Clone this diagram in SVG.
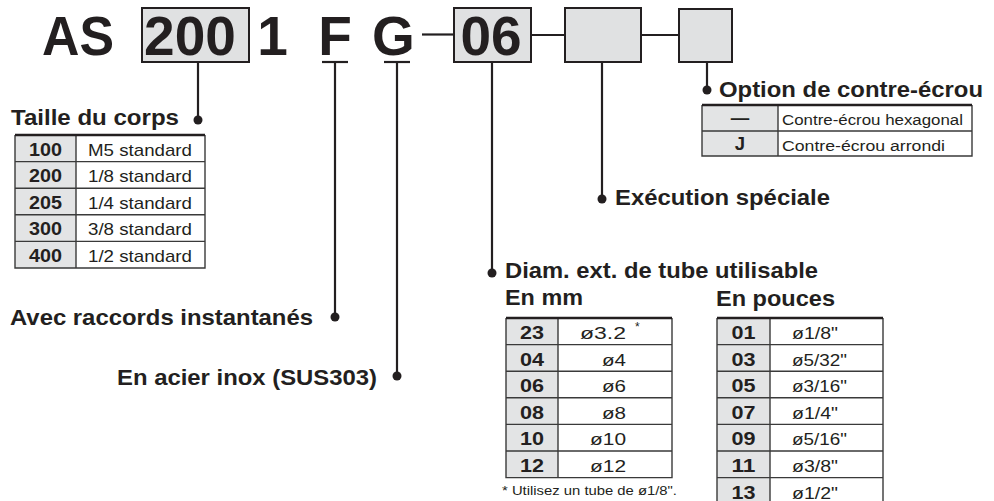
<svg xmlns="http://www.w3.org/2000/svg" width="994" height="501" viewBox="0 0 994 501">
<style>
.t{font-family:"Liberation Sans",Arial,sans-serif;fill:#231f20}
.big{font-size:55px;font-weight:bold}
.lab{font-size:21.5px;font-weight:bold}
.num{font-size:18.5px;font-weight:bold;text-anchor:middle}
.val{font-size:17px}
.code{fill:#e0e1e2;stroke:#231f20;stroke-width:2}
.ln{stroke:#231f20;stroke-width:2.2;fill:none}
.dot{fill:#231f20}
.gc{fill:#e3e4e5}
.wc{fill:#ffffff}
.grid{stroke:#3a3a3a;stroke-width:1.4;fill:none}
.top{stroke:#231f20;stroke-width:2.6}
</style>

<g id="code">
  <text class="t big" x="42" y="55" textLength="72" lengthAdjust="spacingAndGlyphs">AS</text>
  <rect class="code" x="142" y="8" width="107" height="54"/>
  <text class="t big" x="190" y="55" text-anchor="middle">200</text>
  <text class="t big" x="272.5" y="55" text-anchor="middle">1</text>
  <text class="t big" x="335" y="55" text-anchor="middle">F</text>
  <text class="t big" x="393.5" y="55" text-anchor="middle">G</text>
  <rect class="code" x="454" y="8" width="77" height="54"/>
  <text class="t big" x="491" y="55" text-anchor="middle">06</text>
  <rect class="code" x="565" y="8" width="76" height="54"/>
  <rect class="code" x="679" y="9" width="53" height="53"/>
</g>

<g id="connectors">
  <line class="ln" x1="322" y1="62" x2="348" y2="62"/>
  <line class="ln" x1="384" y1="62" x2="410" y2="62"/>
  <line class="ln" x1="422" y1="34.5" x2="454" y2="34.5" stroke-width="2.6"/>
  <line class="ln" x1="531" y1="35" x2="565" y2="35" stroke-width="2.6"/>
  <line class="ln" x1="641" y1="35" x2="679" y2="35" stroke-width="2.6"/>
  <line class="ln" x1="198" y1="62" x2="198" y2="120"/>
  <circle class="dot" cx="198" cy="120" r="4.5"/>
  <line class="ln" x1="335" y1="62" x2="335" y2="317"/>
  <circle class="dot" cx="335" cy="317" r="4.5"/>
  <line class="ln" x1="397" y1="62" x2="397" y2="376"/>
  <circle class="dot" cx="397" cy="376" r="4.5"/>
  <line class="ln" x1="492" y1="62" x2="492" y2="273"/>
  <circle class="dot" cx="492" cy="273" r="4.5"/>
  <line class="ln" x1="602" y1="62" x2="602" y2="199"/>
  <circle class="dot" cx="602" cy="199" r="4.5"/>
  <line class="ln" x1="707" y1="62" x2="707" y2="90"/>
  <circle class="dot" cx="707" cy="90" r="4.5"/>
</g>

<g id="taille">
  <text class="t lab" x="11" y="125" textLength="168" lengthAdjust="spacingAndGlyphs">Taille du corps</text>
  <rect class="gc" x="15" y="135" width="61" height="133"/>
  <rect class="wc" x="76" y="135" width="129" height="133"/>
  <path class="grid" d="M15 135V268H205V135M76 135V268M15 161.6H205M15 188.2H205M15 214.8H205M15 241.4H205"/>
  <line class="top" x1="15" y1="135" x2="205" y2="135"/>
  <text class="t num" x="45.5" y="155.5" textLength="33" lengthAdjust="spacingAndGlyphs">100</text>
  <text class="t num" x="45.5" y="182.1" textLength="33" lengthAdjust="spacingAndGlyphs">200</text>
  <text class="t num" x="45.5" y="208.7" textLength="33" lengthAdjust="spacingAndGlyphs">205</text>
  <text class="t num" x="45.5" y="235.3" textLength="33" lengthAdjust="spacingAndGlyphs">300</text>
  <text class="t num" x="45.5" y="261.9" textLength="33" lengthAdjust="spacingAndGlyphs">400</text>
  <g class="t val" text-anchor="middle">
    <text x="140" y="155.5" textLength="104" lengthAdjust="spacingAndGlyphs">M5 standard</text>
    <text x="140" y="182.1" textLength="104" lengthAdjust="spacingAndGlyphs">1/8 standard</text>
    <text x="140" y="208.7" textLength="104" lengthAdjust="spacingAndGlyphs">1/4 standard</text>
    <text x="140" y="235.3" textLength="104" lengthAdjust="spacingAndGlyphs">3/8 standard</text>
    <text x="140" y="261.9" textLength="104" lengthAdjust="spacingAndGlyphs">1/2 standard</text>
  </g>
</g>

<g id="raccords">
  <text class="t lab" x="10" y="325" textLength="303" lengthAdjust="spacingAndGlyphs">Avec raccords instantanés</text>
</g>

<g id="inox">
  <text class="t lab" x="117" y="385" textLength="260" lengthAdjust="spacingAndGlyphs">En acier inox (SUS303)</text>
</g>

<g id="option">
  <text class="t lab" x="719" y="97" textLength="264" lengthAdjust="spacingAndGlyphs">Option de contre-écrou</text>
  <rect class="gc" x="702" y="105" width="76" height="51"/>
  <rect class="wc" x="778" y="105" width="194" height="51"/>
  <path class="grid" d="M702 105V156H972V105M778 105V156M702 131H972"/>
  <line class="top" x1="702" y1="105" x2="972" y2="105"/>
  <text class="t num" x="740" y="124">—</text>
  <text class="t num" x="740" y="150">J</text>
  <text class="t" x="782" y="124.5" font-size="15.5" textLength="181" lengthAdjust="spacingAndGlyphs">Contre-écrou hexagonal</text>
  <text class="t" x="782" y="150.5" font-size="15.5" textLength="163" lengthAdjust="spacingAndGlyphs">Contre-écrou arrondi</text>
</g>

<g id="execution">
  <text class="t lab" x="615" y="205" textLength="215" lengthAdjust="spacingAndGlyphs">Exécution spéciale</text>
</g>

<g id="diam">
  <text class="t lab" x="505" y="278" textLength="313" lengthAdjust="spacingAndGlyphs">Diam. ext. de tube utilisable</text>
  <text class="t lab" x="505" y="305" textLength="78" lengthAdjust="spacingAndGlyphs">En mm</text>
  <text class="t lab" x="716" y="306" textLength="119" lengthAdjust="spacingAndGlyphs">En pouces</text>

  <rect class="gc" x="506" y="318" width="52" height="159.6"/>
  <rect class="wc" x="558" y="318" width="114" height="159.6"/>
  <path class="grid" d="M506 318V477.6H672V318M558 318V477.6M506 344.6H672M506 371.2H672M506 397.8H672M506 424.4H672M506 451H672"/>
  <line class="top" x1="506" y1="318" x2="672" y2="318"/>
  <g class="t num">
    <text x="532" y="339" textLength="24" lengthAdjust="spacingAndGlyphs">23</text>
    <text x="532" y="365.6" textLength="24" lengthAdjust="spacingAndGlyphs">04</text>
    <text x="532" y="392.2" textLength="24" lengthAdjust="spacingAndGlyphs">06</text>
    <text x="532" y="418.8" textLength="24" lengthAdjust="spacingAndGlyphs">08</text>
    <text x="532" y="445.4" textLength="24" lengthAdjust="spacingAndGlyphs">10</text>
    <text x="532" y="472" textLength="24" lengthAdjust="spacingAndGlyphs">12</text>
  </g>
  <g class="t val" text-anchor="end">
    <text x="626" y="339" textLength="46" lengthAdjust="spacingAndGlyphs">ø3.2</text>
    <text x="626" y="365.6" textLength="24" lengthAdjust="spacingAndGlyphs">ø4</text>
    <text x="626" y="392.2" textLength="24" lengthAdjust="spacingAndGlyphs">ø6</text>
    <text x="626" y="418.8" textLength="24" lengthAdjust="spacingAndGlyphs">ø8</text>
    <text x="626" y="445.4" textLength="36" lengthAdjust="spacingAndGlyphs">ø10</text>
    <text x="626" y="472" textLength="36" lengthAdjust="spacingAndGlyphs">ø12</text>
  </g>
  <text class="t" x="635" y="331" font-size="12" fill="#555">*</text>
  <text class="t" x="502" y="495" font-size="13" textLength="175" lengthAdjust="spacingAndGlyphs">* Utilisez un tube de ø1/8".</text>

  <rect class="gc" x="717" y="318" width="53" height="186.2"/>
  <rect class="wc" x="770" y="318" width="113" height="186.2"/>
  <path class="grid" d="M717 318V504.2H883V318M770 318V504.2M717 344.6H883M717 371.2H883M717 397.8H883M717 424.4H883M717 451H883M717 477.6H883"/>
  <line class="top" x1="717" y1="318" x2="883" y2="318"/>
  <g class="t num">
    <text x="743.5" y="339" textLength="24" lengthAdjust="spacingAndGlyphs">01</text>
    <text x="743.5" y="365.6" textLength="24" lengthAdjust="spacingAndGlyphs">03</text>
    <text x="743.5" y="392.2" textLength="24" lengthAdjust="spacingAndGlyphs">05</text>
    <text x="743.5" y="418.8" textLength="24" lengthAdjust="spacingAndGlyphs">07</text>
    <text x="743.5" y="445.4" textLength="24" lengthAdjust="spacingAndGlyphs">09</text>
    <text x="743.5" y="472" textLength="24" lengthAdjust="spacingAndGlyphs">11</text>
    <text x="743.5" y="498.6" textLength="24" lengthAdjust="spacingAndGlyphs">13</text>
  </g>
  <g class="t val">
    <text x="792" y="339" textLength="46" lengthAdjust="spacingAndGlyphs">ø1/8"</text>
    <text x="792" y="365.6" textLength="55" lengthAdjust="spacingAndGlyphs">ø5/32"</text>
    <text x="792" y="392.2" textLength="55" lengthAdjust="spacingAndGlyphs">ø3/16"</text>
    <text x="792" y="418.8" textLength="46" lengthAdjust="spacingAndGlyphs">ø1/4"</text>
    <text x="792" y="445.4" textLength="55" lengthAdjust="spacingAndGlyphs">ø5/16"</text>
    <text x="792" y="472" textLength="46" lengthAdjust="spacingAndGlyphs">ø3/8"</text>
    <text x="792" y="498.6" textLength="46" lengthAdjust="spacingAndGlyphs">ø1/2"</text>
  </g>
</g>
</svg>
